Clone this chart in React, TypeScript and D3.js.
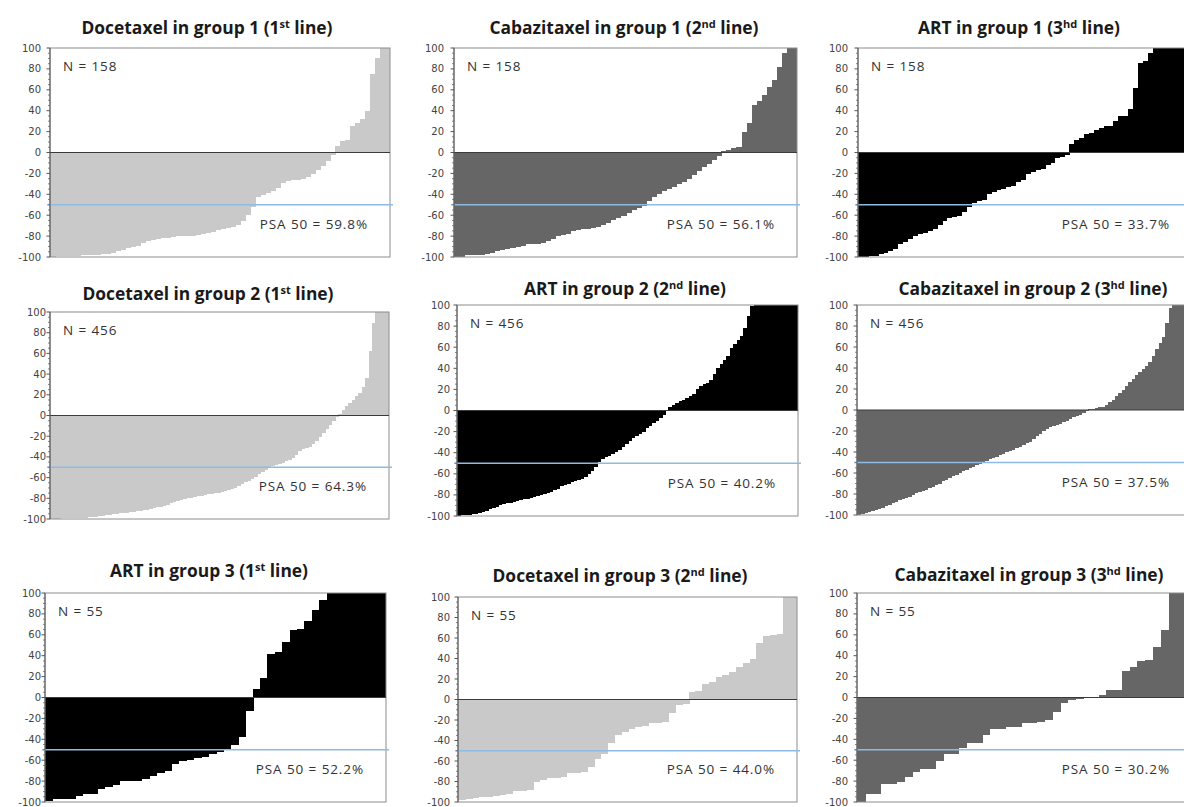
import React from "react";
import * as d3 from "d3";

// ---- data (sorted best PSA change, %, per patient bar) ----
const doc1 = [-100, -99, -99, -99, -99, -99, -98, -98, -98, -98, -97, -97, -96, -94, -93, -91, -90, -89, -87, -85, -84, -83, -82, -82, -81, -80, -80, -80, -80, -79, -78, -77, -76, -74, -73, -72, -71, -69, -66, -60, -52, -43, -41, -39, -37, -34, -29, -27, -26, -26, -25, -23, -21, -17, -13, -8, -2, 6, 11, 12, 25, 28, 32, 40, 75, 90, 100, 100];
const cab1 = [-100, -100, -98, -98, -98, -98, -97, -96, -94, -93, -92, -91, -90, -89, -88, -88, -88, -87, -85, -83, -80, -79, -78, -75, -74, -73, -73, -72, -71, -69, -67, -65, -63, -61, -58, -55, -53, -51, -46, -43, -40, -37, -35, -33, -30, -28, -25, -22, -18, -14, -11, -7, -3, 1, 2, 4, 5, 20, 28, 45, 49, 55, 63, 69, 82, 95, 100, 100];
const art1 = [-100, -100, -99, -99, -97, -96, -94, -92, -88, -86, -83, -80, -78, -77, -75, -73, -69, -66, -63, -62, -61, -57, -52, -48, -46, -45, -40, -38, -36, -35, -33, -32, -28, -26, -21, -19, -17, -16, -12, -10, -5, -4, -2, 8, 12, 14, 18, 19, 22, 23, 25, 25, 30, 35, 35, 42, 62, 86, 88, 95, 100, 100, 100, 100, 100, 100, 100, 100];
const doc2 = [-100, -100, -100, -99, -99, -99, -99, -99, -99, -99, -99, -98, -98, -98, -97, -97, -96, -96, -95, -95, -94, -94, -94, -93, -93, -92, -92, -91, -91, -90, -89, -88, -88, -87, -86, -85, -84, -83, -82, -81, -80, -80, -79, -78, -78, -77, -76, -76, -75, -75, -74, -73, -72, -71, -70, -68, -66, -64, -63, -61, -59, -57, -55, -53, -51, -49, -48, -47, -46, -44, -43, -41, -38, -34, -32, -31, -30, -28, -25, -21, -17, -13, -9, -5, -1, 1, 5, 9, 12, 15, 19, 22, 28, 36, 62, 89, 100, 100, 100, 100];
const art2 = [-100, -99, -99, -99, -98, -98, -97, -96, -95, -93, -92, -91, -90, -89, -88, -88, -87, -86, -85, -84, -84, -83, -82, -81, -80, -79, -78, -77, -75, -74, -72, -71, -70, -68, -67, -66, -65, -63, -60, -57, -54, -49, -46, -44, -43, -41, -39, -37, -35, -32, -29, -26, -24, -22, -20, -17, -15, -12, -10, -7, -4, 0, 3, 5, 7, 9, 10, 12, 14, 16, 20, 23, 25, 26, 29, 35, 40, 44, 48, 52, 59, 63, 67, 71, 78, 90, 99, 100, 100, 100, 100, 100, 100, 100, 100, 100, 100, 100, 100, 100];
const cab2 = [-100, -99, -98, -97, -96, -95, -94, -93, -91, -90, -89, -88, -86, -85, -84, -83, -81, -79, -78, -77, -76, -74, -73, -71, -70, -68, -67, -65, -63, -62, -60, -58, -57, -55, -54, -52, -51, -50, -49, -47, -46, -45, -43, -42, -40, -39, -38, -36, -35, -33, -31, -30, -28, -25, -23, -20, -18, -16, -15, -14, -13, -11, -10, -9, -7, -6, -5, -3, -1, 1, 1, 2, 3, 3, 5, 8, 10, 13, 16, 19, 23, 27, 30, 33, 36, 39, 42, 46, 51, 58, 64, 70, 83, 97, 100, 100, 100, 100, 100, 100];
const art3 = [-99, -97, -97, -97, -94, -92, -92, -88, -86, -84, -80, -80, -80, -78, -75, -72, -70, -64, -61, -60, -58, -57, -54, -52, -49, -45, -38, -13, 8, 19, 42, 44, 53, 65, 66, 73, 84, 93, 100, 100, 100, 100, 100, 100, 100, 100];
const doc3 = [-98, -97, -96, -95, -95, -94, -93, -92, -89, -89, -88, -80, -79, -77, -77, -76, -72, -72, -71, -66, -58, -53, -42, -35, -32, -29, -27, -26, -23, -23, -22, -13, -5, -4, 7, 8, 15, 17, 22, 24, 27, 32, 36, 40, 55, 62, 63, 64, 100, 100];
const cab3 = [-100, -92, -92, -83, -83, -81, -76, -71, -68, -68, -61, -54, -54, -48, -44, -44, -36, -30, -30, -28, -28, -24, -24, -23, -22, -14, -5, -2, -1, -0.5, 0.5, 2, 7, 7, 25, 29, 35, 36, 48, 65, 100, 100, 100];

const drugs = ["Docetaxel", "Cabazitaxel", "ART", "Docetaxel", "ART", "Cabazitaxel", "ART", "Docetaxel", "Cabazitaxel"];
const groups = ["1", "1", "1", "2", "2", "2", "3", "3", "3"];
const lineNums = ["1", "2", "3", "1", "2", "3", "1", "2", "3"];
const lineSups = ["st", "nd", "hd", "st", "nd", "hd", "st", "nd", "hd"];
const nLabels = ["N = 158", "N = 158", "N = 158", "N = 456", "N = 456", "N = 456", "N = 55", "N = 55", "N = 55"];
const psaLabels = ["PSA 50 = 59.8%", "PSA 50 = 56.1%", "PSA 50 = 33.7%", "PSA 50 = 64.3%", "PSA 50 = 40.2%", "PSA 50 = 37.5%", "PSA 50 = 52.2%", "PSA 50 = 44.0%", "PSA 50 = 30.2%"];
const seriesList = [doc1, cab1, art1, doc2, art2, cab2, art3, doc3, cab3];
const yTicks = [-100, -80, -60, -40, -20, 0, 20, 40, 60, 80, 100];
const psaThreshold = -50;

// ---- styles / layout ----
const LIGHT = "#c9c9c9";
const DARK = "#666666";
const BLACK = "#000000";
const fills = [LIGHT, DARK, BLACK, LIGHT, BLACK, DARK, BLACK, LIGHT, DARK];

const frames = [
  { x0: 50, x1: 390, yt: 48, yb: 257, tx: 207, ty: 34, lx: 41 },
  { x0: 454, x1: 797, yt: 48, yb: 257, tx: 624, ty: 34, lx: 444 },
  { x0: 858, x1: 1192, yt: 48, yb: 257, tx: 1019, ty: 34, lx: 848 },
  { x0: 50, x1: 389, yt: 312, yb: 519, tx: 208, ty: 300, lx: 46 },
  { x0: 457, x1: 798, yt: 305, yb: 516, tx: 625, ty: 295, lx: 450 },
  { x0: 857, x1: 1192, yt: 305, yb: 515, tx: 1033, ty: 295, lx: 848 },
  { x0: 45, x1: 386, yt: 593, yb: 802, tx: 209, ty: 577, lx: 41 },
  { x0: 458, x1: 797, yt: 597, yb: 802, tx: 620, ty: 582, lx: 450 },
  { x0: 857, x1: 1192, yt: 593, yb: 802, tx: 1029, ty: 581, lx: 848 },
];

const TITLE_FONT = "'Open Sans', Lato, sans-serif";
const LABEL_FONT = "'Open Sans', Lato, sans-serif";
const TICK_FONT = "'DejaVu Sans', Verdana, sans-serif";

function Panel({ idx }: { idx: number }) {
  const values = seriesList[idx];
  const f = frames[idx];
  const x = d3
    .scaleBand<number>()
    .domain(d3.range(values.length))
    .range([f.x0, f.x1])
    .paddingInner(0)
    .paddingOuter(0);
  const y = d3.scaleLinear().domain([-100, 100]).range([f.yb, f.yt]);
  const minor = d3.range(-100, 101, 5).filter((v) => v % 20 !== 0);
  const bw = x.bandwidth();
  return (
    <g>
      <g shapeRendering="crispEdges">
        {values.map((v, i) => {
          const xs = x(i) as number;
          const w = Math.min(bw + 1, f.x1 - xs);
          return (
            <rect
              key={i}
              x={xs}
              width={w}
              y={Math.min(y(v), y(0))}
              height={Math.abs(y(v) - y(0))}
              fill={fills[idx]}
            />
          );
        })}
      </g>
      <rect x={f.x0} y={f.yt} width={f.x1 - f.x0} height={f.yb - f.yt} fill="none" stroke="#8c8c8c" strokeWidth={1} />
      <line x1={f.x0} x2={f.x1} y1={y(0)} y2={y(0)} stroke="#3a3a3a" strokeWidth={1.2} />
      <line x1={f.x0 - 3} x2={f.x1 + 3} y1={y(psaThreshold)} y2={y(psaThreshold)} stroke="#8dbbe4" strokeWidth={1.6} />
      <line x1={f.x0} x2={f.x0} y1={f.yt} y2={f.yb} stroke="#555" strokeWidth={1} />
      {yTicks.map((t) => (
        <g key={"t" + t}>
          <line x1={f.x0 - 3.5} x2={f.x0} y1={y(t)} y2={y(t)} stroke="#555" strokeWidth={1} />
          <text
            x={f.lx}
            y={y(t)}
            dy="0.35em"
            textAnchor="end"
            fontFamily={TICK_FONT}
            fontSize={10}
            fill="#444"
          >
            {t}
          </text>
        </g>
      ))}
      {minor.map((t) => (
        <line key={"m" + t} x1={f.x0 - 2} x2={f.x0} y1={y(t)} y2={y(t)} stroke="#666" strokeWidth={0.8} />
      ))}
      <text x={f.x0 + 13} y={f.yt + 23} fontFamily={LABEL_FONT} fontSize={13.5} letterSpacing={0.9} fill="#333">
        {nLabels[idx]}
      </text>
      <text x={f.x1 - 22} y={y(-73)} textAnchor="end" fontFamily={LABEL_FONT} fontSize={13.5} letterSpacing={0.9} fill="#333">
        {psaLabels[idx]}
      </text>
      <text x={f.tx} y={f.ty} textAnchor="middle" fontFamily={TITLE_FONT} fontWeight={700} fontSize={17.4} fill="#1a1a1a">
        {`${drugs[idx]} in group ${groups[idx]} (${lineNums[idx]}`}
        <tspan fontSize={11} dy={-6}>{lineSups[idx]}</tspan>
        <tspan dy={6}>{" line)"}</tspan>
      </text>
    </g>
  );
}

export default function App() {
  return (
    <svg
      width={1184}
      height={807}
      viewBox="0 0 1184 807"
      style={{ position: "absolute", left: 0, top: 0, background: "#fff" }}
    >
      <rect x={0} y={0} width={1184} height={807} fill="#fff" />
      {d3.range(9).map((i) => (
        <Panel key={i} idx={i} />
      ))}
    </svg>
  );
}
